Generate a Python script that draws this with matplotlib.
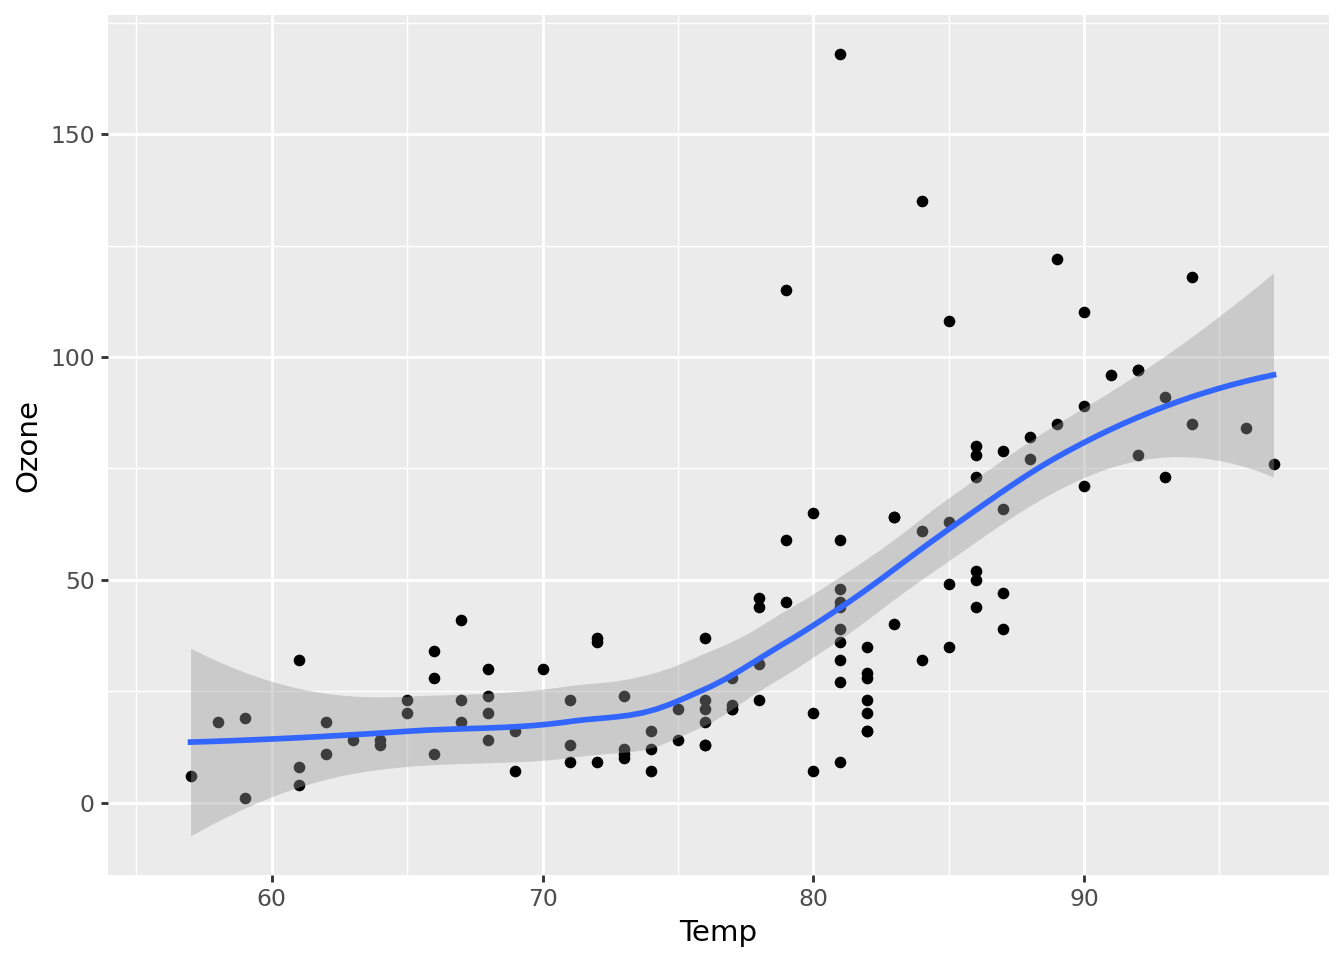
import math
import numpy as np
import matplotlib
matplotlib.use("Agg")
import matplotlib.pyplot as plt
from matplotlib.ticker import MultipleLocator

# airquality: Temp and Ozone (nan = missing ozone)
nan = np.nan
temp = [67, 72, 74, 62, 56, 66, 65, 59, 61, 69, 74, 69, 66, 68, 58, 64, 66, 57, 68, 62,
        59, 73, 61, 61, 57, 58, 57, 67, 81, 79, 76, 78, 74, 67, 84, 85, 79, 82, 87, 90,
        87, 93, 92, 82, 80, 79, 77, 72, 65, 73, 76, 77, 76, 76, 76, 75, 78, 73, 80, 77,
        83, 84, 85, 81, 84, 83, 83, 88, 92, 92, 89, 82, 73, 81, 91, 80, 81, 82, 84, 87,
        85, 74, 81, 82, 86, 85, 82, 86, 88, 86, 83, 81, 81, 81, 82, 86, 85, 87, 89, 90,
        90, 92, 86, 86, 82, 80, 79, 77, 79, 76, 78, 78, 77, 72, 75, 79, 81, 86, 88, 97,
        94, 96, 94, 91, 92, 93, 93, 87, 84, 80, 78, 75, 73, 81, 76, 77, 71, 71, 78, 67,
        76, 68, 82, 64, 71, 81, 69, 63, 70, 77, 75, 76, 68]
ozone = [41, 36, 12, 18, nan, 28, 23, 19, 8, nan, 7, 16, 11, 14, 18, 14, 34, 6, 30, 11,
         1, 11, 4, 32, nan, nan, nan, 23, 45, 115, 37, nan, nan, nan, nan, nan, nan, 29, nan, 71,
         39, nan, nan, 23, nan, nan, 21, 37, 20, 12, 13, nan, nan, nan, nan, nan, nan, nan, nan, nan,
         nan, 135, 49, 32, nan, 64, 40, 77, 97, 97, 85, nan, 10, 27, nan, 7, 48, 35, 61, 79,
         63, 16, nan, nan, 80, 108, 20, 52, 82, 50, 64, 59, 39, 9, 16, 78, 35, 66, 122, 89,
         110, nan, nan, 44, 28, 65, nan, 22, 59, 23, 31, 44, 21, 9, nan, 45, 168, 73, nan, 76,
         118, 84, 85, 96, 78, 73, 91, 47, 32, 20, 23, 21, 24, 44, 21, 28, 9, 13, 46, 18,
         13, 24, 16, 13, 23, 36, 7, 14, 30, nan, 14, 18, 20]

temp = np.array(temp, dtype=float)
ozone = np.array(ozone, dtype=float)
ok = ~np.isnan(ozone)
x, y = temp[ok], ozone[ok]

SPAN = 0.75
CELL = 0.2


# local quadratic fit at x0: rows giving value and slope as linear maps of y
def local_rows(x, x0, span=SPAN):
    n = len(x)
    q = int(np.floor(n * span))
    d = np.abs(x - x0)
    h = np.sort(d)[q - 1]
    u = np.clip(d / h, 0, 1)
    w = (1 - u ** 3) ** 3
    X = np.column_stack([np.ones(n), x - x0, (x - x0) ** 2])
    XtW = X.T * w
    B = np.linalg.solve(XtW @ X, XtW)
    return B[0], B[1]


# kd-tree vertices as loess(surface = "interpolate") builds them in 1-d
def kd_vertices(x, span=SPAN, cell=CELL):
    xs = np.sort(x)
    n = len(xs)
    fc = int(np.floor(n * span * cell))
    lo, hi = xs[0], xs[-1]
    mu = 0.005 * (hi - lo)
    verts = {lo - mu, hi + mu}

    def split(l, u, vlo, vhi):  # 1-based l..u
        if u - l + 1 <= fc:
            return
        m = (l + u) // 2
        off = 0
        while l <= m + off < u:
            if xs[m + off - 1] == xs[m + off]:
                off = -off
                if off >= 0:
                    off += 1
            else:
                m = m + off
                break
        t = xs[m - 1]
        if t == vlo or t == vhi:
            return
        verts.add(t)
        split(l, m, vlo, t)
        split(m + 1, u, t, vhi)

    split(1, n, lo - mu, hi + mu)
    return np.array(sorted(verts))


verts = kd_vertices(x)
vrows = [local_rows(x, v) for v in verts]


def interp_rows(x0s):
    out = []
    for x0 in x0s:
        j = min(max(np.searchsorted(verts, x0, side="right") - 1, 0), len(verts) - 2)
        a, b = verts[j], verts[j + 1]
        h = b - a
        u = (x0 - a) / h
        phi0 = (1 - u) ** 2 * (1 + 2 * u)
        phi1 = u ** 2 * (3 - 2 * u)
        psi0 = u * (1 - u) ** 2
        psi1 = -u ** 2 * (1 - u)
        (v0, d0), (v1, d1) = vrows[j], vrows[j + 1]
        out.append(phi0 * v0 + phi1 * v1 + h * (psi0 * d0 + psi1 * d1))
    return np.array(out)


def t_quantile(p, df):
    c = math.exp(math.lgamma((df + 1) / 2) - math.lgamma(df / 2)) / math.sqrt(df * math.pi)

    def cdf(t):
        g = np.linspace(0, t, 4001)
        return 0.5 + np.trapezoid(c * (1 + g ** 2 / df) ** (-(df + 1) / 2), g)
    lo, hi = 0.0, 10.0
    for _ in range(60):
        mid = (lo + hi) / 2
        if cdf(mid) < p:
            lo = mid
        else:
            hi = mid
    return (lo + hi) / 2


L = interp_rows(x)
M = np.eye(len(x)) - L
M = M.T @ M
delta1 = np.trace(M)
delta2 = np.trace(M @ M)
res = y - L @ y
s = np.sqrt(np.sum(res ** 2) / delta1)
tq = t_quantile(0.975, delta1 ** 2 / delta2)

xseq = np.linspace(x.min(), x.max(), 80)
Lp = interp_rows(xseq)
fit = Lp @ y
se = s * np.sqrt(np.sum(Lp ** 2, axis=1))
lower, upper = fit - tq * se, fit + tq * se

fig = plt.figure(figsize=(7, 5), dpi=192)
ax = fig.add_axes([108 / 1344, 1 - 875 / 960, (1329 - 108) / 1344, (875 - 15) / 960])
ax.set_facecolor("#EBEBEB")
for sp in ax.spines.values():
    sp.set_visible(False)

ax.scatter(x, y, s=19, color="black", linewidths=0, zorder=2)
ax.fill_between(xseq, lower, upper, color="#999999", alpha=0.4, linewidth=0, zorder=3)
ax.plot(xseq, fit, color="#3366FF", linewidth=2.13, zorder=4)

xr = np.nanmax(temp) - np.nanmin(temp)
ax.set_xlim(np.nanmin(temp) - 0.05 * xr, np.nanmax(temp) + 0.05 * xr)
ylo, yhi = min(lower.min(), y.min()), max(upper.max(), y.max())
yr = yhi - ylo
ax.set_ylim(ylo - 0.05 * yr, yhi + 0.05 * yr)

ax.xaxis.set_major_locator(MultipleLocator(10))
ax.xaxis.set_minor_locator(MultipleLocator(5))
ax.yaxis.set_major_locator(MultipleLocator(50))
ax.yaxis.set_minor_locator(MultipleLocator(25))
ax.set_axisbelow(True)
ax.grid(which="major", color="white", linewidth=1.07)
ax.grid(which="minor", color="white", linewidth=0.53)
ax.tick_params(which="major", length=2.75, width=1.07, color="#333333",
               labelsize=8.8, labelcolor="#4D4D4D", pad=2.2)
ax.tick_params(which="minor", length=0)

ax.set_xlabel("Temp", fontsize=11, labelpad=2.75)
ax.set_ylabel("Ozone", fontsize=11, labelpad=2.75)

fig.savefig("out.png", dpi=192)
